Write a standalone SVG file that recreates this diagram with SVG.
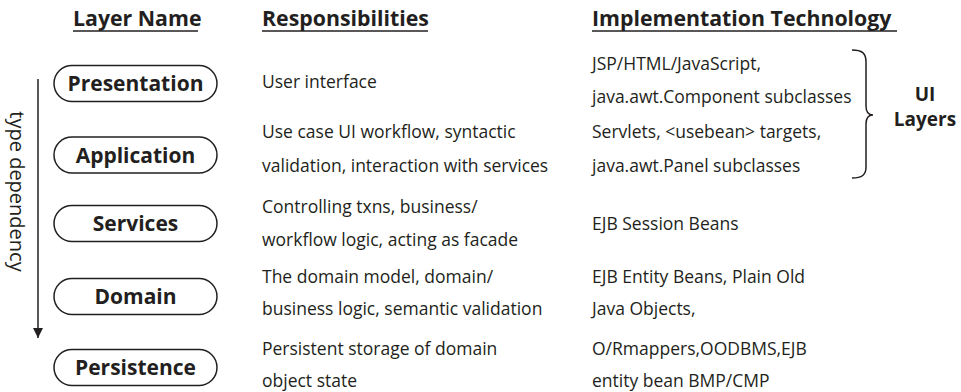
<svg xmlns="http://www.w3.org/2000/svg" width="961" height="392" viewBox="0 0 961 392">
<style>
.hd{font-family:"Open Sans","DejaVu Sans",sans-serif;font-weight:bold;font-size:21.3px;fill:#231f20}
.ul{stroke:#231f20;stroke-width:1.6}
.tx{font-family:"Open Sans","DejaVu Sans",sans-serif;font-size:17.5px;fill:#231f20}
.pill{fill:#fff;stroke:#231f20;stroke-width:1.5}
.pt{font-family:"Open Sans","DejaVu Sans",sans-serif;font-weight:bold;font-size:21px;fill:#231f20;text-anchor:middle}
.ui{font-family:"Open Sans","DejaVu Sans",sans-serif;font-weight:bold;font-size:19px;fill:#231f20;text-anchor:middle}
.ln{stroke:#231f20;stroke-width:1.5;fill:none}
</style>
<defs>
<marker id="ah" viewBox="0 0 10 10" refX="10" refY="5" markerWidth="10" markerHeight="10" markerUnits="userSpaceOnUse" orient="auto">
<path d="M0,0 L10,5 L0,10 Z" fill="#231f20"/>
</marker>
</defs>
<g id="headers">
<text class="hd" x="73" y="26">Layer Name</text>
<line class="ul" x1="73" y1="31" x2="198" y2="31"/>
<text class="hd" x="262" y="26">Responsibilities</text>
<line class="ul" x1="262" y1="31" x2="428" y2="31"/>
<text class="hd" x="592" y="26">Implementation Technology</text>
<line class="ul" x1="592" y1="31" x2="897" y2="31"/>
</g>
<g id="presentation">
<rect class="pill" x="54" y="65.5" width="163" height="36" rx="18"/>
<text class="pt" x="135.5" y="91">Presentation</text>
</g>
<g id="application">
<rect class="pill" x="54" y="137" width="163" height="36" rx="18"/>
<text class="pt" x="135.5" y="162.5">Application</text>
</g>
<g id="services">
<rect class="pill" x="54" y="205.5" width="163" height="36" rx="18"/>
<text class="pt" x="135.5" y="231">Services</text>
</g>
<g id="domain">
<rect class="pill" x="54" y="278.5" width="163" height="36" rx="18"/>
<text class="pt" x="135.5" y="304">Domain</text>
</g>
<g id="persistence">
<rect class="pill" x="54" y="349.5" width="163" height="36" rx="18"/>
<text class="pt" x="135.5" y="375">Persistence</text>
</g>
<g id="responsibilities">
<text class="tx" x="262" y="88">User interface</text>
<text class="tx" x="262" y="138">Use case UI workflow, syntactic</text>
<text class="tx" x="262" y="172">validation, interaction with services</text>
<text class="tx" x="262" y="213">Controlling txns, business/</text>
<text class="tx" x="262" y="246">workflow logic, acting as facade</text>
<text class="tx" x="262" y="283">The domain model, domain/</text>
<text class="tx" x="262" y="315">business logic, semantic validation</text>
<text class="tx" x="262" y="355">Persistent storage of domain</text>
<text class="tx" x="262" y="387">object state</text>
</g>
<g id="technology">
<text class="tx" x="592" y="70">JSP/HTML/JavaScript,</text>
<text class="tx" x="592" y="103">java.awt.Component subclasses</text>
<text class="tx" x="592" y="138">Servlets, &lt;usebean&gt; targets,</text>
<text class="tx" x="592" y="172">java.awt.Panel subclasses</text>
<text class="tx" x="592" y="230">EJB Session Beans</text>
<text class="tx" x="592" y="283">EJB Entity Beans, Plain Old</text>
<text class="tx" x="592" y="315">Java Objects,</text>
<text class="tx" x="592" y="355">O/Rmappers,OODBMS,EJB</text>
<text class="tx" x="592" y="387">entity bean BMP/CMP</text>
</g>
<g id="ui-layers">
<path class="ln" d="M852,50 C862,50 866,53 866,62 L866,106 C866,112 869,115 873,115 C869,115 866,118 866,124 L866,167 C866,175 862,178 852,178"/>
<text class="ui" x="925" y="101">UI</text>
<text class="ui" x="925" y="126">Layers</text>
</g>
<g id="connectors">
<line class="ln" x1="38" y1="79" x2="38" y2="338" marker-end="url(#ah)"/>
<text class="tx" style="font-size:20px" transform="translate(10,191.5) rotate(90)" text-anchor="middle">type dependency</text>
</g>
</svg>
